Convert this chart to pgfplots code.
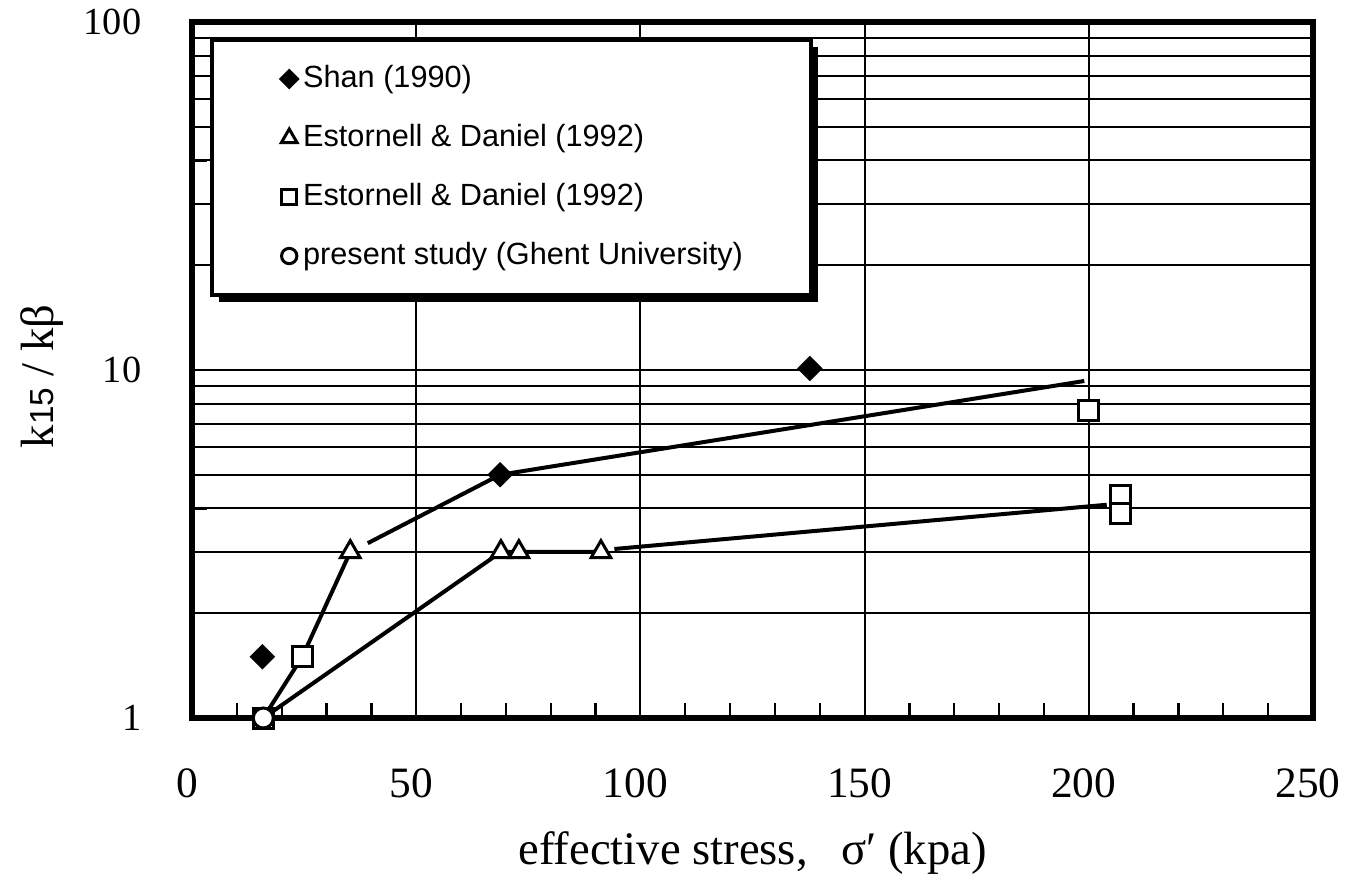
\documentclass[border=0pt]{standalone}
\usepackage{fontspec}
\setmainfont{Liberation Serif}
\newfontfamily\legendfont{Liberation Sans}
\usepackage{pgfplots}
\pgfplotsset{compat=1.18}
\usetikzlibrary{shadows}
\begin{document}
\begin{tikzpicture}
\useasboundingbox (-57.6pt,-47.1pt) rectangle (346.5pt,215.4pt);
\begin{axis}[
 scale only axis, width=336.3pt, height=208.8pt,
 at={(0,0)}, anchor=south west,
 xmin=0, xmax=250, ymin=1, ymax=100, ymode=log, log basis y=10,
 xtick={0,50,...,250}, minor x tick num=4,
 ytick={1,10,100}, yticklabels={1,10,100},
 minor ytick={2,3,4,5,6,7,8,9,20,30,40,50,60,70,80,90},
 xmajorgrids, ymajorgrids, yminorgrids,
 grid style={black, line width=0.6pt},
 minor grid style={black, line width=0.6pt},
 axis line style={line width=2pt},
 tick pos=left, tick align=inside,
 major tick length=0pt, minor tick length=4.5pt,
 tick style={black, line width=0.7pt},
 /pgf/number format/assume math mode=true,
 xticklabel style={font=\fontsize{13}{13}\selectfont, anchor=north, inner sep=0pt, yshift=-15pt, xshift=-1.5pt},
 yticklabel style={font=\fontsize{11.5}{12}\selectfont, anchor=east, inner sep=0pt, xshift=-15pt},
 xlabel={effective stress,\hspace{10pt}σ′ (kpa)},
 xlabel style={font=\fontsize{14}{14}\selectfont, at={(axis description cs:0.5,-0.2112)}, anchor=base},
 ylabel={k{\legendfont\fontsize{10}{10}\selectfont 15} / kβ},
 ylabel style={font=\fontsize{14}{14}\selectfont, at={(axis description cs:-0.124,0.491)}, anchor=base},
 legend style={at={(0.016,0.977)}, anchor=north west, fill=white, draw=black, line width=1.2pt,
   inner xsep=20.5pt, inner ysep=7.2pt, row sep=8.7pt, column sep=1.5pt,
   font=\legendfont\fontsize{9.2}{10}\selectfont,
   nodes={inner sep=0pt, text height=7pt, text depth=2pt},
   drop shadow={shadow xshift=2pt, shadow yshift=-2pt, fill=black, opacity=1}},
 legend cell align=left,
 legend image code/.code={\draw[#1] plot coordinates {(0pt,0pt)};},
 clip=false,
]
\addplot[line width=1.2pt, black, forget plot] coordinates {(15.9,1) (24.6,1.5) (35.3,3)};
\addplot[line width=1.2pt, black, forget plot] coordinates {(39.2,3.18) (68.7,5) (199,9.3)};
\addplot[line width=1.2pt, black, forget plot] coordinates {(15.9,1) (68.9,3) (91.2,3)};
\addplot[line width=1.2pt, black, forget plot] coordinates {(94.2,3.06) (204,4.1)};
\addplot[only marks, forget plot, mark=square*, mark size=3pt, mark options={fill=white, draw=black, line width=0.9pt}] coordinates {(15.9,1)};
\addplot[only marks, mark=square*, mark size=2.4pt, mark options={rotate=45, fill=black, draw=black, line width=0.6pt}, legend image post style={mark size=1.9pt}] coordinates {(15.7,1.5) (68.7,5) (137.8,10.1)};
\addlegendentry{Shan (1990)}
\addplot[only marks, mark=triangle*, mark size=3.4pt, mark options={fill=white, draw=black, line width=0.9pt}, legend image post style={mark size=2.7pt}] coordinates {(35.3,3) (68.9,3) (72.9,3) (91.2,3)};
\addlegendentry{Estornell \& Daniel (1992)}
\addplot[only marks, mark=square*, mark size=3pt, mark options={fill=white, draw=black, line width=0.9pt}, legend image post style={mark size=2.3pt}] coordinates {(24.6,1.5) (200,7.65) (207,4.37) (207,3.87)};
\addlegendentry{Estornell \& Daniel (1992)}
\addplot[only marks, mark=*, mark size=3pt, mark options={fill=white, draw=black, line width=0.9pt}, legend image post style={mark size=2.3pt}] coordinates {(15.9,1)};
\addlegendentry{present study (Ghent University)}
\end{axis}
\end{tikzpicture}
\end{document}
